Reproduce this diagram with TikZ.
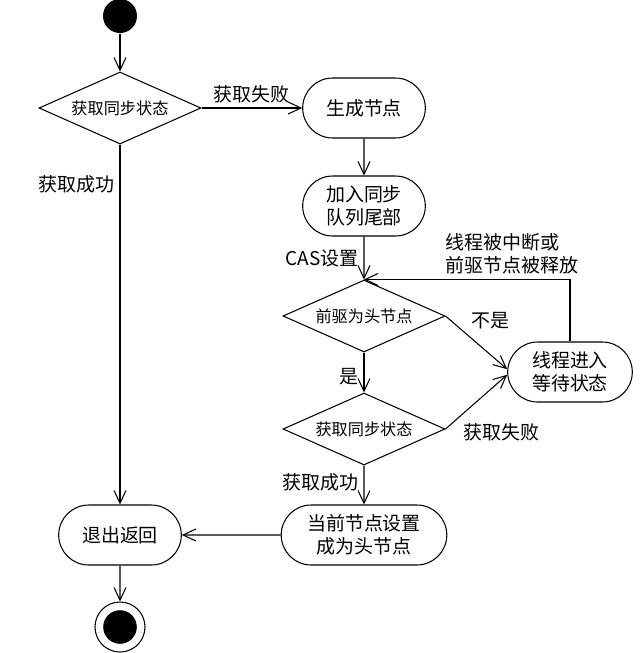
\documentclass[tikz,border=0pt]{standalone}
\usepackage{fontspec}
\setmainfont{Noto Sans CJK SC}
\usetikzlibrary{arrows.meta,shapes.geometric,shapes.misc}

\begin{document}
\begin{tikzpicture}[
  line width=0.75pt,
  font=\fontsize{13.5}{16.5}\selectfont,
  flow/.style={-{Straight Barb[length=3.2mm,width=3mm]}},
  act/.style={draw, rounded rectangle, minimum width=3.3cm, minimum height=1.5cm, align=center},
  choice/.style={draw, diamond, aspect=2.25, minimum width=4.05cm, minimum height=1.8cm, inner sep=0pt, font=\fontsize{11.5}{14}\selectfont},
  final/.style={draw, circle, minimum size=1.25cm, path picture={\fill (path picture bounding box.center) circle (0.42cm);}}
]
  \useasboundingbox (0, 0) rectangle (16.1, -16.325);
  \draw (3.0, -0.4) node[circle, fill, minimum size=0.85cm] (start) {};
  \draw (3.0, -2.7) node[choice] (get1) {获取同步状态};
  \draw (9.1, -2.7) node[act] (newnode) {生成节点};
  \draw (9.1, -5.15) node[act] (enq) {加入同步\\队列尾部};
  \draw (9.1, -7.9) node[choice] (prev) {前驱为头节点};
  \draw (14.25, -9.3) node[act, minimum width=3.35cm] (park) {线程进入\\等待状态};
  \draw (9.1, -10.725) node[choice] (get2) {获取同步状态};
  \draw (9.1, -13.375) node[act, minimum width=4.375cm] (sethead) {当前节点设置\\成为头节点};
  \draw (3.0, -13.375) node[act] (ret) {退出返回};
  \draw (3.0, -15.675) node[final] (end) {};
  \draw [flow] (start) -- (get1);
  \draw [flow] (get1.east) -- node[above]{获取失败} (newnode.west);
  \draw [flow] (get1.south) -- node[left, pos=0.11]{获取成功} (ret.north);
  \draw [flow] (newnode) -- (enq);
  \draw [flow] (enq) -- node[left]{CAS设置} (prev);
  \draw [flow] (prev.east) -- node[above right, pos=0.34]{不是} ([yshift=2pt]park.west);
  \draw [flow] (get2.east) -- node[below right, pos=0.2]{获取失败} ([yshift=-2pt]park.west);
  \draw [flow] (park.north) |- node[above right, pos=0.815, align=left]{线程被中断或\\前驱节点被释放} (prev.north);
  \draw [flow] (prev) -- node[left, pos=0.6]{是} (get2);
  \draw [flow] (get2) -- node[left, pos=0.43]{获取成功} (sethead);
  \draw [flow] (sethead) -- (ret);
  \draw [flow] (ret) -- (end);
\end{tikzpicture}
\end{document}
